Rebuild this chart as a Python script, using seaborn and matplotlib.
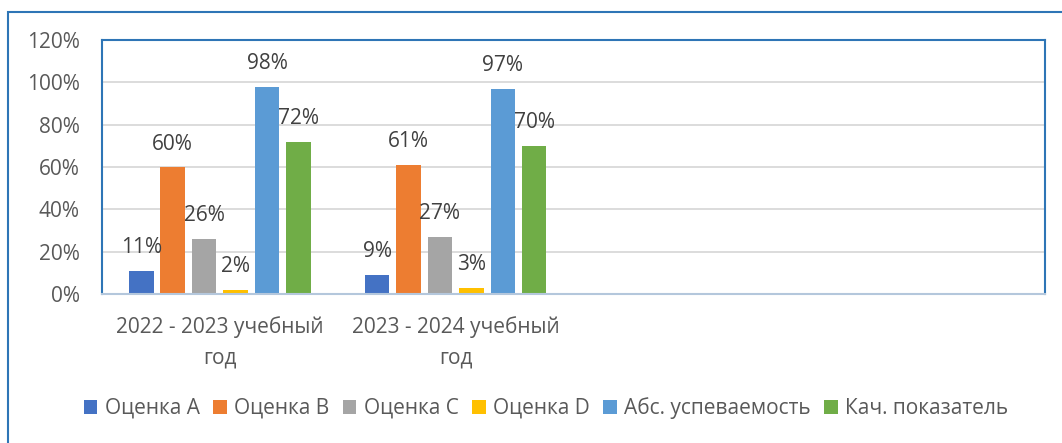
import matplotlib
matplotlib.use("Agg")
import matplotlib.pyplot as plt
import seaborn as sns
import pandas as pd
from matplotlib.patches import Rectangle, Patch
from matplotlib.ticker import PercentFormatter, MultipleLocator

categories = ["2022 - 2023 учебный\nгод", "2023 - 2024 учебный\nгод"]
series = ["Оценка A", "Оценка B", "Оценка C", "Оценка D",
          "Абс. успеваемость", "Кач. показатель"]
values_2022 = [11, 60, 26, 2, 98, 72]
values_2023 = [9, 61, 27, 3, 97, 70]
colors = ["#4472C4", "#ED7D31", "#A5A5A5", "#FFC000", "#5B9BD5", "#70AD47"]

rows = []
for cat, vals in zip(categories, [values_2022, values_2023]):
    for s, v in zip(series, vals):
        rows.append({"cat": cat, "series": s, "value": v})
df = pd.DataFrame(rows)

sns.set_theme(style="white")
plt.rcParams["font.family"] = ["Open Sans", "DejaVu Sans"]
FS = 15

W, H = 1062, 443
fig = plt.figure(figsize=(W / 100, H / 100), dpi=100)
ax = fig.add_axes([102 / W, 1 - 294 / H, (1045 - 102) / W, (294 - 40) / H])

sns.barplot(data=df, x="cat", y="value", hue="series", order=categories,
            hue_order=series, palette=colors, saturation=1, width=0.8, gap=0.22,
            linewidth=0, ax=ax, legend=False)

ax.set_xlim(-0.5, 3.5)
ax.set_ylim(0, 120)
ax.yaxis.set_major_locator(MultipleLocator(20))
ax.yaxis.set_major_formatter(PercentFormatter(decimals=0))
ax.yaxis.grid(True, color="#D9D9D9", lw=1.3)
ax.set_axisbelow(True)
ax.set_xlabel("")
ax.set_ylabel("")
ax.tick_params(axis="both", length=0, colors="#595959", labelsize=FS)
ax.tick_params(axis="y", pad=16)
ax.tick_params(axis="x", pad=16)
for lbl in ax.get_xticklabels():
    lbl.set_linespacing(1.6)

for side in ["top", "left", "right"]:
    ax.spines[side].set_color("#2E75B6")
    ax.spines[side].set_linewidth(1.5)
ax.spines["bottom"].set_color("#B4C7DC")
ax.spines["bottom"].set_linewidth(1.5)

for cont in ax.containers:
    ax.bar_label(cont, labels=[f"{b.get_height():.0f}%" for b in cont],
                 padding=9, fontsize=FS, color="#404040")

handles = [Patch(facecolor=c, edgecolor="none", label=s) for c, s in zip(colors, series)]
fig.legend(handles=handles, loc="center", bbox_to_anchor=(546 / W, 1 - 408 / H),
           ncol=6, frameon=False, fontsize=FS, handlelength=0.65, handleheight=0.65,
           handletextpad=0.35, columnspacing=0.65, labelcolor="#595959")

fig.patches.append(Rectangle((8 / W, -0.5), 2, 1.5 - 12 / H, transform=fig.transFigure,
                             fill=False, edgecolor="#2E75B6", lw=1.5))

fig.savefig("out.png", dpi=100)
